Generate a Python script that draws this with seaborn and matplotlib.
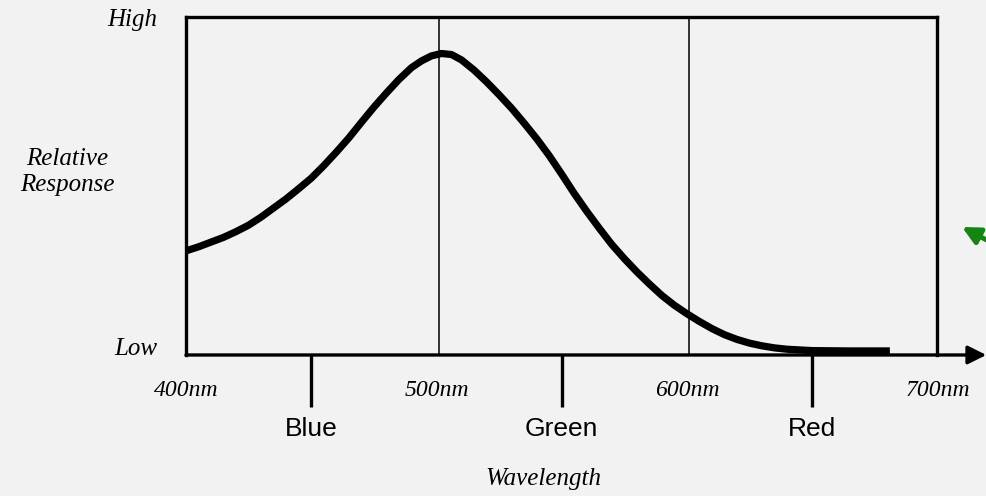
import matplotlib
matplotlib.use("Agg")
import matplotlib.pyplot as plt
import pandas as pd
import seaborn as sns

# Relative response curve (wavelength nm, relative 0..1)
wavelength = [400, 405, 410, 415, 420, 425, 430, 435, 440, 445, 450, 455, 460,
              465, 470, 475, 480, 485, 490, 494, 498, 502, 506, 510, 515, 520,
              525, 530, 535, 540, 545, 550, 555, 560, 565, 570, 575, 580, 585,
              590, 595, 600, 605, 610, 615, 620, 625, 630, 635, 640, 650, 665, 681]
response = [0.308, 0.320, 0.334, 0.348, 0.365, 0.384, 0.408, 0.435, 0.462,
            0.492, 0.523, 0.560, 0.600, 0.642, 0.688, 0.733, 0.775, 0.815,
            0.850, 0.870, 0.885, 0.892, 0.889, 0.873, 0.843, 0.808, 0.770,
            0.730, 0.686, 0.640, 0.590, 0.535, 0.478, 0.425, 0.375, 0.327,
            0.285, 0.246, 0.210, 0.176, 0.147, 0.122, 0.099, 0.078, 0.060,
            0.046, 0.035, 0.027, 0.021, 0.017, 0.013, 0.012, 0.012]

nm_ticks = [400, 500, 600, 700]
nm_labels = ["400nm", "500nm", "600nm", "700nm"]
divider_lines = [501, 601]
colour_ticks = [450, 550, 650]
colour_labels = ["Blue", "Green", "Red"]

df = pd.DataFrame({"wavelength": wavelength, "response": response})

sns.set_theme(style="white")
plt.rcParams["font.family"] = ["DejaVu Sans"]
plt.rcParams["text.color"] = "black"
bg = "#f2f2f2"

fig = plt.figure(figsize=(9.87, 4.96), dpi=100, facecolor=bg)
ax = fig.add_axes([0.1884, 0.2843, 0.7614, 0.6814])
ax.set_facecolor(bg)

sns.lineplot(data=df, x="wavelength", y="response", ax=ax, color="black",
             linewidth=5.2, solid_capstyle="butt", solid_joinstyle="round",
             zorder=3)

for x in divider_lines:
    ax.axvline(x, color="black", linewidth=1.1, zorder=2)

ax.set_xlim(400, 700)
ax.set_ylim(0, 1)
ax.set_xticks([])
ax.set_yticks([])
ax.set_xlabel("")
ax.set_ylabel("")

for side in ["left", "top", "right"]:
    ax.spines[side].set_linewidth(2.4)
    ax.spines[side].set_color("black")
ax.spines["bottom"].set_visible(False)

# horizontal axis with arrow head
ax.annotate("", xy=(1.065, 0), xytext=(0, 0), xycoords="axes fraction",
            textcoords="axes fraction",
            arrowprops=dict(arrowstyle="-|>", color="black", lw=2.4,
                            mutation_scale=28, shrinkA=0, shrinkB=0))

trans = ax.get_xaxis_transform()
serif = ["Liberation Serif", "DejaVu Serif"]
sans = ["Liberation Sans", "DejaVu Sans"]

for x, lab in zip(nm_ticks, nm_labels):
    ax.text(x, -0.105, lab, transform=trans, ha="center", va="center",
            family=serif, style="italic", fontsize=17, color="black")

ax.vlines(colour_ticks, -0.155, 0, transform=trans, color="black",
          linewidth=2.4, clip_on=False)
for x, lab in zip(colour_ticks, colour_labels):
    ax.text(x, -0.22, lab, transform=trans, ha="center", va="center",
            family=sans, fontsize=19, color="black")

fig.text(543 / 987, 1 - 479 / 496, "Wavelength", ha="center", va="center",
         family=serif, style="italic", fontsize=18, color="black")
fig.text(157 / 987, 1 - 20 / 496, "High", ha="right", va="center",
         family=serif, style="italic", fontsize=18, color="black")
fig.text(157 / 987, 1 - 349 / 496, "Low", ha="right", va="center",
         family=serif, style="italic", fontsize=18, color="black")
fig.text(67 / 987, 1 - 172 / 496, "Relative\nResponse", ha="center",
         va="center", family=serif, style="italic", fontsize=18,
         linespacing=1.25, color="black")

# green pointer coming in from the right edge
fig.patches.append(matplotlib.patches.FancyArrowPatch(
    (1013 / 987, 1 - 254 / 496), (962 / 987, 1 - 227 / 496),
    transform=fig.transFigure, arrowstyle="-|>", mutation_scale=26,
    color="#128512", lw=3.5, shrinkA=0, shrinkB=0))

fig.savefig("out.png", dpi=100, facecolor=bg)
